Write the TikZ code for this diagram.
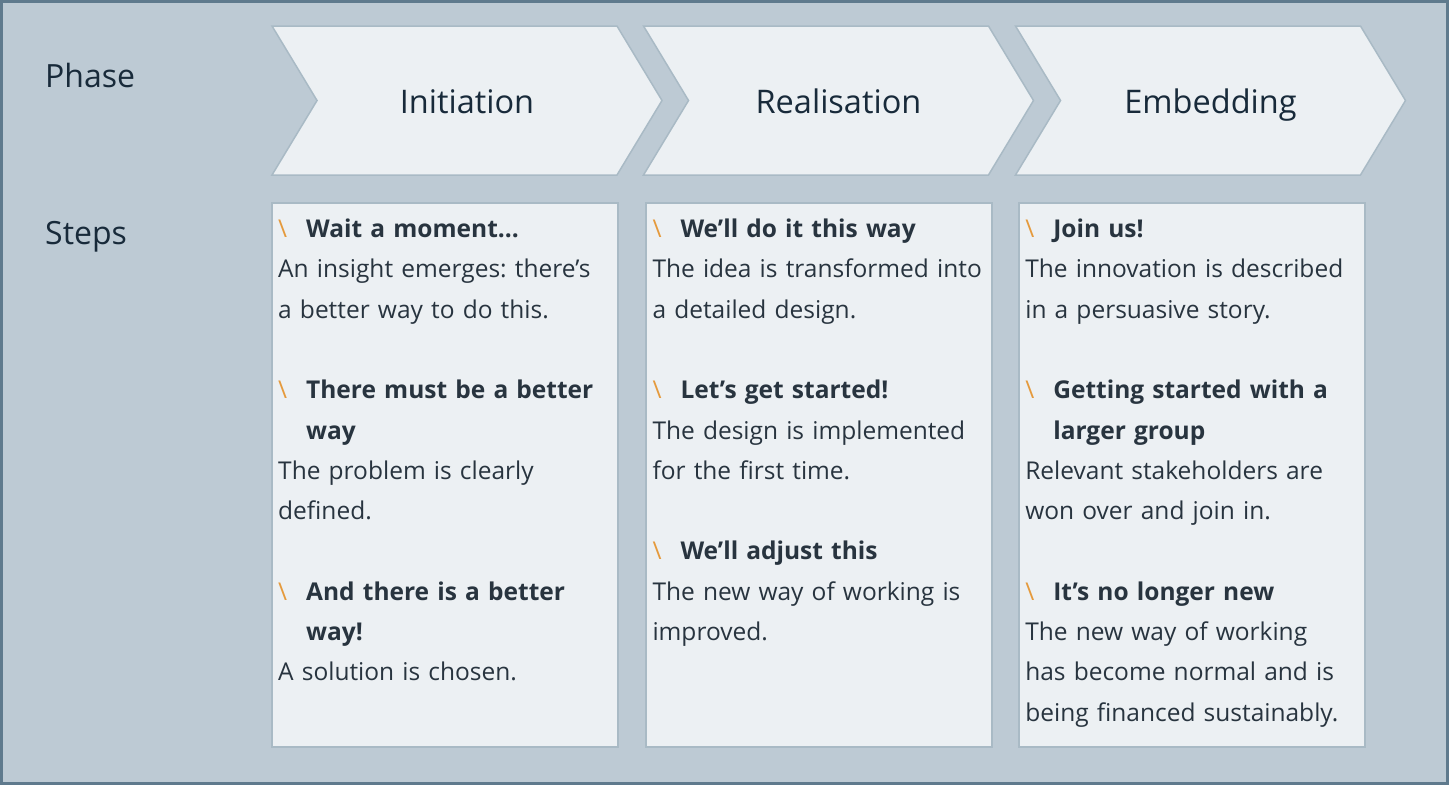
\documentclass[tikz,border=0pt]{standalone}
\usepackage{fontspec}
\setmainfont{Open Sans}
\usetikzlibrary{positioning,shapes.symbols}
\definecolor{bgcolor}{HTML}{BDCAD4}
\definecolor{framecolor}{HTML}{5F7A8D}
\definecolor{panelfill}{HTML}{ECF0F3}
\definecolor{panelline}{HTML}{A9BAC5}
\definecolor{titlecolor}{HTML}{182A3A}
\definecolor{textcolor}{HTML}{28343F}
\definecolor{tickorange}{HTML}{E59A3C}
\setlength{\parskip}{0pt}
\frenchspacing
\newcommand\stephead[1]{\par\hangindent=28pt\hangafter=1\noindent
  \makebox[28pt][l]{\textcolor{tickorange}{\textbackslash}}\textbf{#1}\par}
\newcommand\stepgap{\par\vspace{40.3pt}}

\begin{document}
\begin{tikzpicture}[x=1pt, y=-1pt,
        rowlabel/.style={font=\fontsize{32}{36}\selectfont, text=titlecolor,
                         anchor=base west, inner sep=0pt},
        phasebox/.style={signal, signal to=east, signal from=west,
                         signal pointer angle=117.7, draw=panelline,
                         fill=panelfill, line width=1.5pt,
                         minimum width=390pt, minimum height=149pt,
                         text height=25.6pt, text depth=0pt,
                         font=\fontsize{32.5}{36}\selectfont, text=titlecolor},
        stepbox/.style={draw=panelline, fill=panelfill, line width=1.8pt,
                        minimum width=346pt, minimum height=544pt},
        steptext/.style={text width=340pt, align=left, inner sep=0pt,
                         text=textcolor, font=\fontsize{24.5}{40.3}\selectfont}
      ]
        \useasboundingbox (0,0) rectangle (1449,785);
        \fill[bgcolor] (0,0) rectangle (1449,785);
        \draw[framecolor, line width=3pt] (1.5,1.5) rectangle (1447.5,783.5);

        \node[rowlabel] (phase) at (45,87) {Phase};
        \node[rowlabel] (steps) at (45,244) {Steps};

        \node[phasebox] (initiation)  at (467,100.5)  {Initiation};
        \node[phasebox] (realisation) at (838.5,100.5) {Realisation};
        \node[phasebox] (embedding)   at (1210.5,100.5) {Embedding};

        \node[stepbox, anchor=north west] (iniBox) at (271,202) {};
        \node[stepbox] (reaBox) [right=26.5pt of iniBox] {};
        \node[stepbox] (embBox) [right=25pt of reaBox] {};

        \node[steptext] (iniText) [below right=-5pt and 7pt of iniBox.north west] {%
          \stephead{Wait a moment...}
          An insight emerges: there’s\\ a better way to do this.
          \stepgap
          \stephead{There must be a better\newline way}
          The problem is clearly\\ defined.
          \stepgap
          \stephead{And there is a better\newline way!}
          A solution is chosen.\par};
        \node[steptext] (reaText) [below right=-5pt and 7pt of reaBox.north west] {%
          \stephead{We’ll do it this way}
          The idea is transformed into\\ a detailed design.
          \stepgap
          \stephead{Let’s get started!}
          The design is implemented\\ for the first time.
          \stepgap
          \stephead{We’ll adjust this}
          The new way of working is\\ improved.\par};
        \node[steptext] (embText) [below right=-5pt and 7pt of embBox.north west] {%
          \stephead{Join us!}
          The innovation is described\\ in a persuasive story.
          \stepgap
          \stephead{Getting started with a\newline larger group}
          Relevant stakeholders are\\ won over and join in.
          \stepgap
          \stephead{It’s no longer new}
          The new way of working\\ has become normal and is\\ being financed sustainably.\par};
      \end{tikzpicture}
\end{document}
